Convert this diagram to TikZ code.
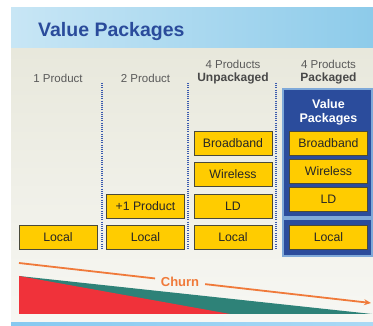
\documentclass[tikz,border=0pt]{standalone}
\usepackage{fontspec}
\setmainfont{Liberation Sans}
\usetikzlibrary{calc}
\usetikzlibrary{arrows.meta}
\definecolor{titleblue}{HTML}{2A4B9B}
\definecolor{bandleft}{HTML}{C8E6F5}
\definecolor{bandright}{HTML}{8DCBEA}
\definecolor{bodytop}{HTML}{E8E8DC}
\definecolor{bodybot}{HTML}{F7F7F3}
\definecolor{boxyellow}{HTML}{FFCC00}
\definecolor{boxedge}{HTML}{4A4A3A}
\definecolor{headgray}{HTML}{5A5A5A}
\definecolor{sepblue}{HTML}{3A5AAE}
\definecolor{panelblue}{HTML}{2B4C9C}
\definecolor{panelrim}{HTML}{7FA9D9}
\definecolor{churnorange}{HTML}{F07A3A}
\definecolor{churnred}{HTML}{F0323A}
\definecolor{churnteal}{HTML}{2E8278}
\definecolor{footblue}{HTML}{86C9F0}
\tikzset{
    prod/.style={draw=boxedge, fill=boxyellow, line width=0.9pt, minimum width=78pt,
        minimum height=24pt, inner sep=0pt, text=black!85,
        font=\fontsize{12.3}{14}\selectfont},
    colhead/.style={text=headgray, inner sep=0pt, font=\fontsize{11.5}{13}\selectfont},
    colheadbf/.style={colhead, text=headgray!80!black, font=\fontsize{12}{14}\selectfont\bfseries},
    sepline/.style={draw=sepblue, line width=1.3pt, dash pattern=on 1.1pt off 1.1pt},
    churnline/.style={draw=churnorange, line width=1.8pt}
}

\begin{document}
\begin{tikzpicture}[x=1pt, y=-1pt]
    \useasboundingbox (0,0) rectangle (373,326);

    \shade[left color=bandleft, right color=bandright] (11,8) rectangle (373,49);
    \shade[top color=bodytop, bottom color=bodybot] (11,49) rectangle (373,322.5);
    \shade[left color=footblue, right color=footblue!70!white] (11,322.5) rectangle (373,326);

    \node[anchor=base west, inner sep=0pt, text=titleblue,
        font=\fontsize{19.5}{21}\selectfont\bfseries] (title) at (38,37) {Value Packages};

    \def\colA{58}
    \def\colB{145.5}
    \def\colC{233}
    \def\colD{328.5}

    % column heads
    \node[colhead] (headA) at (\colA,78) {1 Product};
    \node[colhead] (headB) at (\colB,78) {2 Product};
    \node[colhead] (headC) at (\colC,64) {4 Products};
    \node[colheadbf] (headCb) at (\colC,78) {Unpackaged};
    \node[colhead] (headD) at (\colD,64) {4 Products};
    \node[colheadbf] (headDb) at (\colD,78) {Packaged};

    \coordinate (sepAt) at (102,83);
    \coordinate (sepAb) at (102,250);
    \coordinate (sepBt) at (188,83);
    \coordinate (sepBb) at (188,250);
    \coordinate (sepCt) at (276,83);
    \coordinate (sepCb) at (276,250);
    \draw[sepline] (sepAt) -- (sepAb);
    \draw[sepline] (sepBt) -- (sepBb);
    \draw[sepline] (sepCt) -- (sepCb);

    % packaged panel
    \fill[panelrim] (282,88) rectangle (373,257);
    \fill[panelblue] (284,90) rectangle (371,216);
    \fill[panelblue] (284,220) rectangle (371,255);
    \node[text=white, align=center, inner sep=0pt,
        font=\fontsize{12.5}{14}\selectfont\bfseries] (vp) at (\colD,112) {Value\\Packages};

    \node[prod] (localA) at (\colA,237) {Local};

    \node[prod] (localB) at (\colB,237) {Local};
    \node[prod] (plusB) at (\colB,206) {+1 Product};

    \node[prod] (localC) at (\colC,237) {Local};
    \node[prod] (ldC) at (\colC,206) {LD};
    \node[prod] (wirelessC) at (\colC,174) {Wireless};
    \node[prod] (broadbandC) at (\colC,143) {Broadband};

    \node[prod] (localD) at (\colD,237) {Local};
    \node[prod] (ldD) at (\colD,199) {LD};
    \node[prod] (wirelessD) at (\colD,171.5) {Wireless};
    \node[prod] (broadbandD) at (\colD,143) {Broadband};

    % churn wedge
    \coordinate (wedgeT) at (19,276);
    \coordinate (wedgeB) at (19,314);
    \coordinate (wedgeR) at (372,314);
    \coordinate (wedgeM) at (230,314);
    \fill[churnteal] (wedgeT) -- (wedgeR) -- (wedgeB) -- cycle;
    \fill[churnred] (wedgeT) -- (wedgeM) -- (wedgeB) -- cycle;

    \coordinate (churnA) at (19,263);
    \coordinate (churnB) at (371,303);
    \node[text=churnorange, inner xsep=6pt, font=\fontsize{13}{15}\selectfont\bfseries] (churn) at (180,282) {Churn};
    \draw[churnline] (churnA) -- ($(churnA)!(churn.west)!(churnB)$);
    \draw[churnline, -{Stealth[length=7pt, width=6pt]}] ($(churnA)!(churn.east)!(churnB)$) -- (churnB);
\end{tikzpicture}
\end{document}
